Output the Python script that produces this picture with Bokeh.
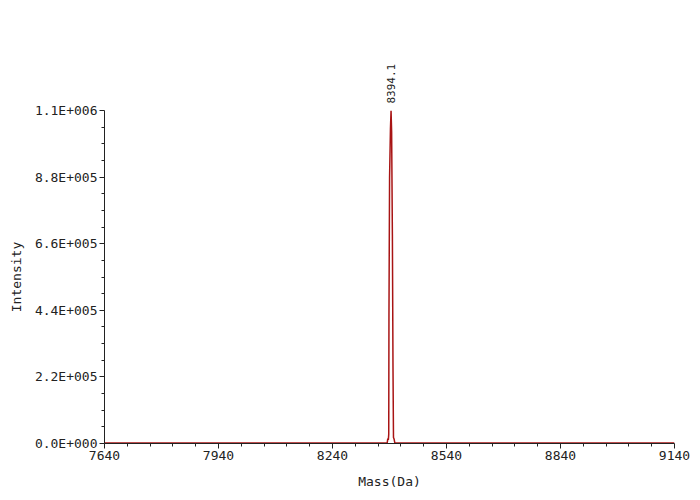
import math
from bokeh.plotting import figure
from bokeh.models import Range1d, FixedTicker, LinearAxis
from bokeh.embed import file_html
from bokeh.resources import INLINE

# ---- data ----
mass = [7640, 7800, 8000, 8200, 8380, 8384, 8385.5, 8387, 8388, 8388.6, 8390.2,
        8392.5, 8394.1, 8395.6, 8397.6, 8399.2, 8400.5, 8402, 8404, 8420, 8600,
        8800, 9000, 9140]
intensity = [1500, 1500, 1500, 1500, 1500, 2000, 16000, 12000, 30000, 430000, 880000,
             1040000, 1100000, 1030000, 690000, 250000, 20000, 15000, 2000, 1500, 1500,
             1500, 1500, 1500]

peak_mass = [8394.1]
peak_label = ["8394.1"]

x_ticks = [7640, 7940, 8240, 8540, 8840, 9140]
x_tick_labels = ["7640", "7940", "8240", "8540", "8840", "9140"]
y_ticks = [0, 220000, 440000, 660000, 880000, 1100000]
y_tick_labels = ["0.0E+000", "2.2E+005", "4.4E+005", "6.6E+005", "8.8E+005", "1.1E+006"]

FONT = "DejaVu Sans Mono"

p = figure(width=700, height=500, output_backend="svg", toolbar_location=None,
           x_range=Range1d(x_ticks[0], x_ticks[-1]), y_range=Range1d(y_ticks[0], y_ticks[-1]),
           min_border_left=104, min_border_right=26, min_border_top=110,
           min_border_bottom=57)
p.outline_line_color = None
p.background_fill_color = "white"
p.border_fill_color = "white"
p.xgrid.visible = False
p.ygrid.visible = False

p.line(mass, intensity, line_color="#a81414", line_width=1.5)

# ticks
x_minor = []
for a, b in zip(x_ticks[:-1], x_ticks[1:]):
    step = (b - a) / 5
    x_minor += [a + step * k for k in range(1, 5)]
y_minor = []
for a, b in zip(y_ticks[:-1], y_ticks[1:]):
    step = (b - a) / 4
    y_minor += [a + step * k for k in range(1, 4)]

p.xaxis.ticker = FixedTicker(ticks=x_ticks, minor_ticks=x_minor)
p.yaxis.ticker = FixedTicker(ticks=y_ticks, minor_ticks=y_minor)
p.xaxis.major_label_overrides = {t: l for t, l in zip(x_ticks, x_tick_labels)}
p.yaxis.major_label_overrides = {t: l for t, l in zip(y_ticks, y_tick_labels)}

for ax in (p.xaxis, p.yaxis):
    ax.axis_line_color = "#222222"
    ax.major_tick_line_color = "#222222"
    ax.minor_tick_line_color = "#222222"
    ax.major_tick_out = 5
    ax.major_tick_in = 0
    ax.minor_tick_out = 3
    ax.minor_tick_in = 0
    ax.major_label_text_font = FONT
    ax.major_label_text_font_size = "13px"
    ax.major_label_text_color = "#222222"
    ax.axis_label_text_font = FONT
    ax.axis_label_text_font_size = "13px"
    ax.axis_label_text_font_style = "normal"
    ax.axis_label_text_color = "#222222"
    ax.major_label_standoff = 2

p.xaxis.axis_label = "Mass(Da)"
p.yaxis.axis_label = "Intensity"
p.xaxis.axis_label_standoff = 11
p.yaxis.axis_label_standoff = 8

# peak annotation: an unlined axis above the plot with a single labelled tick
peak_axis = LinearAxis(ticker=FixedTicker(ticks=peak_mass, minor_ticks=[]),
                       major_label_overrides={m: l for m, l in zip(peak_mass, peak_label)},
                       major_label_orientation="vertical",
                       axis_line_color=None, major_tick_line_color=None,
                       minor_tick_line_color=None, major_tick_out=0, major_tick_in=0,
                       minor_tick_out=0, minor_tick_in=0, major_label_standoff=7,
                       major_label_text_font=FONT, major_label_text_font_size="11px",
                       major_label_text_color="#222222")
p.add_layout(peak_axis, "above")

open("out.html", "w").write(file_html(p, INLINE))
